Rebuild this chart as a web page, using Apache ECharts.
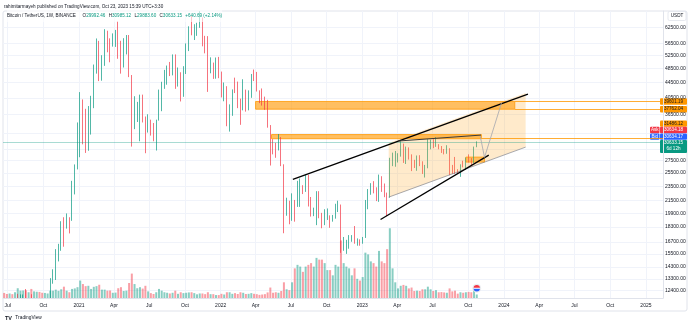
<!DOCTYPE html>
<html><head><meta charset="utf-8">
<script src="https://cdn.jsdelivr.net/npm/echarts@6/dist/echarts.min.js"></script>
<style>html,body{margin:0;padding:0;background:#fff}#c{width:690px;height:323px}</style>
</head><body><div id="c"></div><script>
// ---------- DATA ----------
const dates = [
'2020-06-22','2020-06-29','2020-07-06','2020-07-13','2020-07-20','2020-07-27','2020-08-03','2020-08-10','2020-08-17','2020-08-24','2020-08-31','2020-09-07','2020-09-14','2020-09-21','2020-09-28','2020-10-05','2020-10-12','2020-10-19','2020-10-26','2020-11-02','2020-11-09','2020-11-16','2020-11-23','2020-11-30','2020-12-07','2020-12-14','2020-12-21','2020-12-28',
'2021-01-04','2021-01-11','2021-01-18','2021-01-25','2021-02-01','2021-02-08','2021-02-15','2021-02-22','2021-03-01','2021-03-08','2021-03-15','2021-03-22','2021-03-29','2021-04-05','2021-04-12','2021-04-19','2021-04-26','2021-05-03','2021-05-10','2021-05-17','2021-05-24','2021-05-31','2021-06-07','2021-06-14','2021-06-21','2021-06-28','2021-07-05','2021-07-12','2021-07-19','2021-07-26','2021-08-02','2021-08-09','2021-08-16','2021-08-23','2021-08-30','2021-09-06','2021-09-13','2021-09-20','2021-09-27','2021-10-04','2021-10-11','2021-10-18','2021-10-25','2021-11-01','2021-11-08','2021-11-15','2021-11-22','2021-11-29','2021-12-06','2021-12-13','2021-12-20','2021-12-27',
'2022-01-03','2022-01-10','2022-01-17','2022-01-24','2022-01-31','2022-02-07','2022-02-14','2022-02-21','2022-02-28','2022-03-07','2022-03-14','2022-03-21','2022-03-28','2022-04-04','2022-04-11','2022-04-18','2022-04-25','2022-05-02','2022-05-09','2022-05-16','2022-05-23','2022-05-30','2022-06-06','2022-06-13','2022-06-20','2022-06-27','2022-07-04','2022-07-11','2022-07-18','2022-07-25','2022-08-01','2022-08-08','2022-08-15','2022-08-22','2022-08-29','2022-09-05','2022-09-12','2022-09-19','2022-09-26','2022-10-03','2022-10-10','2022-10-17','2022-10-24','2022-10-31','2022-11-07','2022-11-14','2022-11-21','2022-11-28','2022-12-05','2022-12-12','2022-12-19','2022-12-26',
'2023-01-02','2023-01-09','2023-01-16','2023-01-23','2023-01-30','2023-02-06','2023-02-13','2023-02-20','2023-02-27','2023-03-06','2023-03-13','2023-03-20','2023-03-27','2023-04-03','2023-04-10','2023-04-17','2023-04-24','2023-05-01','2023-05-08','2023-05-15','2023-05-22','2023-05-29','2023-06-05','2023-06-12','2023-06-19','2023-06-26','2023-07-03','2023-07-10','2023-07-17','2023-07-24','2023-07-31','2023-08-07','2023-08-14','2023-08-21','2023-08-28','2023-09-04','2023-09-11','2023-09-18','2023-09-25','2023-10-02','2023-10-09','2023-10-16','2023-10-23'];
const opens = [
9690,9098,9075,9300,9160,9935,11070,11680,11910,11650,11700,10250,10330,10930,10740,10670,11380,11500,13030,13750,15480,15980,18370,18180,19360,19270,23480,26280,
33000,38150,35830,32260,33100,38870,48580,57400,45140,51000,59000,57300,55800,58200,59800,56250,49000,56600,58240,46430,34700,35680,35800,39100,35500,34700,35300,34250,31780,35400,39850,43800,47000,49300,48800,51750,46000,47250,43200,48230,54960,61530,60900,61300,63300,65500,58600,57300,49400,50100,46700,50800,
47300,41860,43080,36280,37900,42400,42200,38350,37700,38400,37800,41300,46800,46400,42200,39700,39450,38500,34000,31300,30300,29450,29900,26600,20550,21000,19300,20850,20800,22600,23300,23200,24300,21500,19550,19950,21800,19400,18800,19300,19400,19250,19550,20600,20900,16300,16300,16450,17100,17100,16750,16850,
16600,17100,21200,22700,23750,22950,21800,24300,23550,22430,22100,27950,27950,28200,28330,30300,27600,29250,28450,26900,26750,28100,27100,25900,26350,30500,30600,30150,30250,30050,29300,29050,29300,26100,26000,25850,25830,26550,26250,27950,27900,27150,29992.46];
const highs = [
9800,9330,9470,9340,10160,12120,12080,12070,12486,11800,12090,10800,11180,10990,10960,11490,11720,13350,14100,15960,16490,18950,19420,19880,19420,24300,26880,34800,
41950,40100,37850,38500,41000,49700,58350,57500,52640,61780,61200,58400,60200,61500,64850,57520,58450,59600,59600,46600,40900,39500,41300,41300,36100,36600,35400,34680,35400,42600,44700,48100,49400,50500,52900,52900,48800,47400,49200,56600,62900,67000,63700,64270,69000,66400,59300,59200,51950,50300,51900,52100,
47600,44500,43500,38900,42650,45850,44750,40300,45400,42600,42400,46900,48200,47500,42400,42900,40800,40000,34250,31400,30700,32400,31800,26900,21900,21500,22500,21600,24300,24650,23650,25200,25200,22000,20600,22800,22800,19950,20400,20500,19650,19700,21100,21500,21000,17200,16900,17400,17400,18400,17050,16950,
17200,21600,23100,23950,24250,23350,25250,25000,23900,22600,28000,28900,29200,28800,31000,30550,30000,29850,28600,27650,28400,28450,27400,26800,31400,31300,31400,31800,30450,30100,29550,30250,29700,26800,28150,26100,26900,27500,28050,28600,27950,30000,30985.12];
const lows = [
8833,8893,9055,9000,9100,9920,10950,11120,11520,11140,9875,9900,10260,10140,10370,10530,11230,11400,12900,13200,14800,15800,16200,18110,17580,19000,22350,26070,
28100,30420,28850,29240,32300,38000,47000,44890,45000,49300,53600,50400,55500,55400,51500,47000,48800,52900,46000,30000,33400,34900,31000,34800,28800,32700,32100,31000,29280,35200,37300,42800,43900,46300,46500,42800,43400,39600,40750,46900,54000,59500,57800,59300,62300,55600,53250,42000,47100,45500,45550,45700,
40600,39650,34000,32900,36250,41700,38000,34300,37500,37200,37500,40500,44900,42100,39200,38600,37600,33700,26700,28600,28000,29300,26600,17600,19600,18600,19000,18900,20700,20700,22400,22700,20750,19500,19550,18500,19300,18150,18500,19100,18200,18900,19250,20050,15600,15800,15500,16000,16700,16500,16300,16300,
16500,17100,20400,22300,22500,21450,21350,22700,21970,19550,21900,26600,26500,27200,28200,27130,26950,27700,25800,26300,25850,26600,25350,24800,26250,29500,29700,29950,29500,28850,28600,28700,25150,25350,25350,25350,24900,26400,26000,27200,26550,27100,29883.6];
const closes = [
9098,9075,9300,9160,9935,11070,11680,11910,11650,11700,10250,10330,10930,10740,10670,11380,11500,13030,13750,15480,15980,18370,18180,19360,19270,23480,26280,33000,
38150,35830,32260,33100,38870,48580,57400,45140,51000,59000,57300,55800,58200,59800,56250,49000,56600,58240,46430,34700,35680,35800,39100,35500,34700,35300,34250,31780,35400,39850,43800,47000,49300,48800,51750,46000,47250,43200,48230,54960,61530,60900,61300,63300,65500,58600,57300,49400,50100,46700,50800,47300,
41860,43080,36280,37900,42400,42200,38350,37700,38400,37800,41300,46800,46400,42200,39700,39450,38500,34000,31300,30300,29450,29900,26600,20550,21000,19300,20850,20800,22600,23300,23200,24300,21500,19550,19950,21800,19400,18800,19300,19400,19250,19550,20600,20900,16300,16300,16450,17100,17100,16750,16850,16600,
17100,21200,22700,23750,22950,21800,24300,23550,22430,22100,27950,27950,28200,28330,30300,27600,29250,28450,26900,26750,28100,27100,25900,26350,30500,30600,30150,30250,30050,29300,29050,29300,26100,26000,25850,25830,26550,26250,27950,27900,27150,29992.46,30633.15];
const volumes = [ // thousand BTC
290,230,260,220,330,560,420,430,440,330,520,380,360,350,300,290,260,420,420,480,410,500,650,420,330,520,550,620,
1000,800,680,700,520,640,680,760,480,480,420,430,300,310,560,620,400,420,860,1400,800,560,620,540,700,380,280,230,330,520,420,330,300,260,300,420,240,330,280,300,320,330,280,210,260,260,220,330,220,220,170,170,
240,200,330,330,240,280,230,330,300,230,240,280,240,220,180,200,220,320,600,300,330,300,400,900,500,450,900,1700,1900,1800,1500,1800,1900,2000,1800,2300,2200,2200,2000,1600,1600,1300,1900,1800,3300,2000,1800,1700,1300,1700,1100,1000,
1200,2600,2500,2100,2000,1800,2700,2100,2000,2800,4000,1700,900,550,700,750,700,550,600,400,420,400,500,500,650,500,400,450,330,340,320,300,550,380,420,250,330,300,330,350,330,600,200];

const priceLabelTicks = [12400,13300,14300,15500,16700,18300,19900,21500,23500,25500,27500,36500,40500,44500,48500,52500,56500,62500];
const priceGridTicks = [12400,13300,14300,15500,16700,18300,19900,21500,23500,25500,27500,29500,32500,36500,40500,44500,48500,52500,56500,62500];
const timeTickDates = ['2020-07-01','2020-10-01','2021-01-01','2021-04-01','2021-07-01','2021-10-01','2022-01-01','2022-04-01','2022-07-01','2022-10-01','2023-01-01','2023-04-01','2023-07-01','2023-10-01','2024-01-01','2024-04-01','2024-07-01','2024-10-01','2025-01-01'];
const timeTickLabels = ['Jul','Oct','2021','Apr','Jul','Oct','2022','Apr','Jul','Oct','2023','Apr','Jul','Oct','2024','Apr','Jul','Oct','2025'];

// drawings (date, price)
const zoneTop = [['2022-04-01', 39601.19], ['2024-01-29', 37762.04]];
const zoneMid = [['2022-05-12', 32300], ['2023-11-04', 31486.12]];
const zoneSmall = [['2023-09-25', 28120], ['2023-11-12', 27270]];
const upperLine = [['2022-07-06', 24510], ['2024-03-03', 41450]];
const lowerLine = [['2023-02-17', 19160], ['2023-11-23', 28470]];
const rangeLine = [['2023-04-03', 31040], ['2023-11-03', 32200]];
const projection = [['2023-11-01', 32000], ['2023-11-12', 28070], ['2023-12-26', 39290]];
const channel = [['2023-03-10', 30660], ['2024-02-26', 41700], ['2024-02-26', 29900], ['2023-03-10', 21980]];
const lastPrice = 30633.15, askPrice = 30634.18, bidPrice = 30634.17;

// ---------- HELPERS ----------
const D = s => Date.UTC(+s.slice(0,4), +s.slice(5,7)-1, +s.slice(8,10));
const L = v => Math.log10(v);
const xMin = D('2020-06-19'), xMax = D('2025-02-14');
const yMinP = 11815, yMaxP = 69100;
const FONT = 'Liberation Sans, Arial, sans-serif';
const UP = '#089981', DN = '#f23645';
const tLab = {}; timeTickDates.forEach((d,i)=>tLab[D(d)] = timeTickLabels[i]);
const pl = pts => pts.map(p => [D(p[0]), L(p[1])]);
const clampP = v => L(Math.min(Math.max(v, yMinP), yMaxP)); // emulate clipping at the pane edges

const chart = echarts.init(document.getElementById('c'), null, {renderer:'canvas', width:690, height:323});

const candleData = dates.map((d,i)=> highs[i] < yMinP ? [D(d), '-', '-', '-', '-'] :
  [D(d), clampP(opens[i]), clampP(closes[i]), clampP(lows[i]), clampP(highs[i])]);
const volData = dates.map((d,i)=>({value:[D(d), volumes[i]], itemStyle:{color: closes[i]>=opens[i] ? 'rgba(8,153,129,0.48)' : 'rgba(242,54,69,0.48)'}}));

function lineSeries(pts, color, width){
  return {type:'line', xAxisIndex:0, yAxisIndex:0, data: pl(pts), symbol:'none', silent:true, z:7,
    lineStyle:{color, width}, animation:false};
}
function areaItem(z, fill){
  return [{xAxis:D(z[0][0]), yAxis:L(z[0][1]), itemStyle:{color:fill, borderColor:'#ff9800', borderWidth:0.8}}, {xAxis:D(z[1][0]), yAxis:L(z[1][1])}];
}
const xTickVals = timeTickDates.map(D);

chart.setOption({
  animation:false,
  backgroundColor:'#ffffff',
  grid:[{left:3, right:27, top:11, bottom:25}, {left:3, right:27, top:223, bottom:25}],
  xAxis:[
    {type:'value', gridIndex:0, min:xMin, max:xMax,
     axisLine:{show:true, lineStyle:{color:'#e0e3eb', width:1}},
     axisTick:{show:false, customValues:xTickVals},
     axisLabel:{customValues:xTickVals, formatter:v=>tLab[v]||'', fontSize:5, color:'#131722', fontFamily:FONT, margin:5},
     splitLine:{show:true, lineStyle:{color:'#f0f3fa', width:1}}},
    {type:'value', gridIndex:1, min:xMin, max:xMax, show:false}
  ],
  yAxis:[
    {type:'value', gridIndex:0, position:'right', min:L(yMinP), max:L(yMaxP),
     axisLine:{show:true, lineStyle:{color:'#e0e3eb', width:1}},
     axisTick:{show:false, customValues:priceGridTicks.map(L)},
     axisLabel:{customValues:priceLabelTicks.map(L), align:'left', margin:2, fontSize:5, color:'#131722', fontFamily:FONT,
       formatter:v=>{let best=priceLabelTicks[0]; priceLabelTicks.forEach(p=>{if(Math.abs(L(p)-v)<Math.abs(L(best)-v)) best=p;}); return best.toFixed(2);}},
     splitLine:{show:true, lineStyle:{color:'#f0f3fa', width:1}}},
    {type:'value', gridIndex:1, min:0, max:4300, show:false}
  ],
  series:[
    {type:'bar', xAxisIndex:1, yAxisIndex:1, barWidth:2, data:volData, z:1, silent:true},
    {type:'candlestick', xAxisIndex:0, yAxisIndex:0, barWidth:1.3, data:candleData, z:2, silent:true,
     itemStyle:{color:UP, color0:DN, borderColor:UP, borderColor0:DN, borderWidth:0.7},
     markLine:{silent:true, symbol:'none', label:{show:false}, lineStyle:{color:'rgba(8,153,129,0.35)', type:'solid', width:1},
       data:[{yAxis:L(lastPrice)}]}},
    {type:'custom', xAxisIndex:0, yAxisIndex:0, z:4, silent:true, data:[pl(channel)[0]],
     renderItem:(params, api)=>{
       const pts = pl(channel).map(c=>api.coord(c));
       return {type:'group', children:[
         {type:'polygon', shape:{points:pts}, style:{fill:'rgba(255,167,38,0.24)'}},
         {type:'line', shape:{x1:pts[3][0], y1:pts[3][1], x2:pts[2][0], y2:pts[2][1]}, style:{stroke:'rgba(120,123,134,0.8)', lineWidth:0.8}}
       ]};
     }},
    {type:'line', xAxisIndex:0, yAxisIndex:0, data:[], z:5, silent:true,
     markArea:{silent:true, data:[areaItem(zoneTop,'rgba(255,152,0,0.62)'), areaItem(zoneMid,'rgba(255,152,0,0.62)'), areaItem(zoneSmall,'rgba(255,152,0,0.55)')]},
     markLine:{silent:true, symbol:'none', label:{show:false}, lineStyle:{color:'#ff9800', width:0.8, type:'solid'},
       data:[
         [{coord:[D(zoneTop[1][0]), L(zoneTop[0][1])]}, {coord:[xMax, L(zoneTop[0][1])]}],
         [{coord:[D(zoneTop[1][0]), L(zoneTop[1][1])]}, {coord:[xMax, L(zoneTop[1][1])]}],
         [{coord:[D(zoneMid[1][0]), L(zoneMid[1][1])]}, {coord:[xMax, L(zoneMid[1][1])]}]
       ]}},
    lineSeries(upperLine, '#000000', 1.3),
    lineSeries(lowerLine, '#000000', 1.3),
    lineSeries(rangeLine, '#3a3a3a', 1),
    lineSeries(projection, '#a3a6af', 0.8),
    {type:'custom', xAxisIndex:1, yAxisIndex:1, z:8, silent:true, data:[[D(dates[dates.length-1]), 560]],
     renderItem:(params, api)=>{
       const c = api.coord([api.value(0), api.value(1)]);
       return {type:'group', children:[
         {type:'circle', shape:{cx:c[0], cy:c[1], r:4}, style:{fill:'#ffffff', stroke:'#d1d4dc', lineWidth:0.5}},
         {type:'sector', shape:{cx:c[0], cy:c[1], r:3.2, r0:0, startAngle:Math.PI, endAngle:Math.PI*2}, style:{fill:DN}},
         {type:'sector', shape:{cx:c[0], cy:c[1], r:3.2, r0:0, startAngle:0, endAngle:Math.PI}, style:{fill:'#2962ff'}},
         {type:'rect', shape:{x:c[0]-3.2, y:c[1]-0.5, width:6.4, height:1}, style:{fill:'#ffffff'}}
       ]};
     }}
  ]
});

// ---------- TEXT & PRICE TAGS ----------
const yp = p => chart.convertToPixel({yAxisIndex:0}, L(p));
const yCur = yp(lastPrice);
function tag(cy, h, bg, fg, text, x, w){
  return {type:'group', children:[
    {type:'rect', shape:{x:x, y:cy-h/2, width:w, height:h, r:1}, style:{fill:bg}},
    {type:'text', x:x+w/2, y:cy, style:{text, fill:fg, fontSize:4.6, fontFamily:FONT, align:'center', verticalAlign:'middle'}}
  ]};
}
const TX = 660, TW = 27;
const graphics = [
  {type:'rect', shape:{x:3, y:11, width:684, height:300, r:2}, style:{fill:'none', stroke:'#e0e3eb', lineWidth:1}, z:-1},
  {type:'text', x:4, y:7, style:{text:'rahimitarmayeh published on TradingView.com, Oct 23, 2023 15:39 UTC+3:30', fill:'#131722', fontSize:4.6, fontFamily:FONT, verticalAlign:'middle'}},
  {type:'text', x:7, y:16, z:20, style:{
    text:'{a|Bitcoin / TetherUS, 1W, BINANCE}  {a|O}{c|29992.46} {a|H}{c|30985.12} {a|L}{c|29883.60} {a|C}{c|30633.15} {c|+640.69 (+2.14%)}',
    verticalAlign:'middle', backgroundColor:'rgba(255,255,255,0.6)',
    rich:{a:{fill:'#131722', fontSize:4.6, fontFamily:FONT}, c:{fill:UP, fontSize:4.6, fontFamily:FONT}}}},
  {type:'rect', shape:{x:668, y:11.5, width:18, height:9, r:1.5}, style:{fill:'#fff', stroke:'#e0e3eb', lineWidth:0.8}, z:20},
  {type:'text', x:677, y:16, z:21, style:{text:'USDT', fill:'#131722', fontSize:4.6, fontFamily:FONT, align:'center', verticalAlign:'middle'}},
  {type:'text', x:5, y:318, style:{text:'{b|TV} {a|TradingView}', verticalAlign:'middle',
    rich:{b:{fill:'#131722', fontSize:5.5, fontWeight:'bold', fontFamily:FONT}, a:{fill:'#131722', fontSize:4.8, fontFamily:FONT}}}},
  Object.assign(tag(yp(39601.19), 6.4, '#ff9800', '#131722', '39601.19', TX, TW), {z:20}),
  Object.assign(tag(yp(37762.04), 6.4, '#ff9800', '#131722', '37762.04', TX, TW), {z:20}),
  Object.assign(tag(yCur-19.6, 6.4, '#ff9800', '#131722', '31486.12', TX, TW), {z:20}),
  Object.assign(tag(yCur-13.2, 6.4, DN, '#ffffff', askPrice.toFixed(2), TX, TW), {z:20}),
  Object.assign(tag(yCur-13.2, 6.4, DN, '#ffffff', 'Ask', 650, 9.5), {z:20}),
  Object.assign(tag(yCur-6.6, 6.4, '#2962ff', '#ffffff', bidPrice.toFixed(2), TX, TW), {z:20}),
  Object.assign(tag(yCur-6.6, 6.4, '#2962ff', '#ffffff', 'Bid', 650, 9.5), {z:20}),
  {type:'group', z:20, children:[
    {type:'rect', shape:{x:TX, y:yCur-3.3, width:TW, height:13, r:1}, style:{fill:UP}},
    {type:'text', x:TX+TW/2, y:yCur, style:{text:lastPrice.toFixed(2), fill:'#fff', fontSize:4.6, fontFamily:FONT, align:'center', verticalAlign:'middle'}},
    {type:'text', x:TX+TW/2, y:yCur+5.8, style:{text:'6d 12h', fill:'#fff', fontSize:4.6, fontFamily:FONT, align:'center', verticalAlign:'middle'}}
  ]}
];
chart.setOption({graphic:graphics});
</script></body></html>
